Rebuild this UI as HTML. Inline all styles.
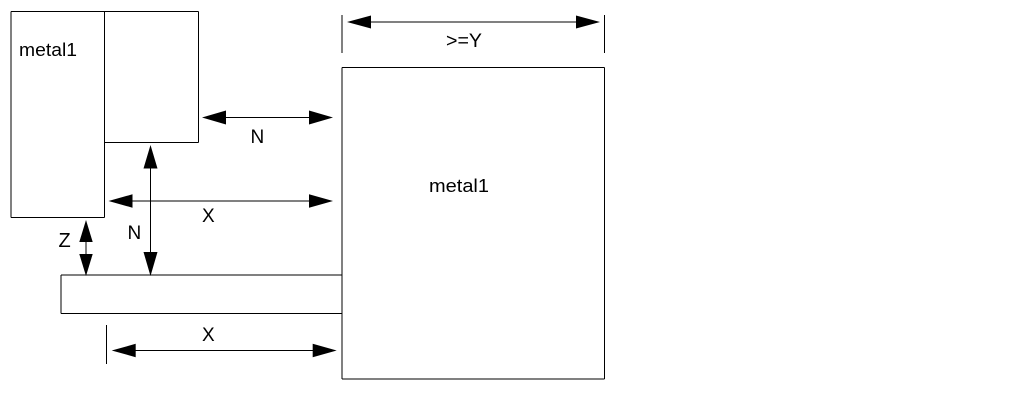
<!DOCTYPE html>
<html>
<head>
<meta charset="utf-8">
<style>
  html, body { margin: 0; padding: 0; background: #fff; }
  body { width: 1013px; height: 413px; overflow: hidden; }
  svg { display: block; }
  text { font-family: "Liberation Sans", Arial, sans-serif; fill: #000; }
</style>
</head>
<body>
<svg width="1013" height="413" viewBox="0 0 1013 413" xmlns="http://www.w3.org/2000/svg">
  <rect x="0" y="0" width="1013" height="413" fill="#fff"/>
  <g stroke="#000" stroke-width="1" fill="none">
    <!-- left tall rect -->
    <line x1="11" y1="11.5" x2="11" y2="217.5"/>
    <line x1="11" y1="11.5" x2="104.5" y2="11.5"/>
    <line x1="104.5" y1="11.5" x2="104.5" y2="217.5"/>
    <line x1="11" y1="217.5" x2="104.5" y2="217.5"/>
    <!-- second rect -->
    <line x1="104.5" y1="11.5" x2="198.5" y2="11.5"/>
    <line x1="198.5" y1="11.5" x2="198.5" y2="142.5"/>
    <line x1="104.5" y1="142.5" x2="198.5" y2="142.5"/>
    <!-- right big rect -->
    <line x1="342" y1="67.5" x2="604.5" y2="67.5"/>
    <line x1="342" y1="67.5" x2="342" y2="379"/>
    <line x1="604.5" y1="67.5" x2="604.5" y2="379"/>
    <line x1="342" y1="379" x2="604.5" y2="379"/>
    <!-- bar -->
    <line x1="61" y1="275" x2="342" y2="275"/>
    <line x1="61" y1="275" x2="61" y2="313.5"/>
    <line x1="61" y1="313.5" x2="342" y2="313.5"/>
    <!-- >=Y dimension -->
    <line x1="342" y1="15" x2="342" y2="53"/>
    <line x1="604.5" y1="15" x2="604.5" y2="53"/>
    <line x1="360" y1="22" x2="588" y2="22"/>
    <!-- N horizontal -->
    <line x1="215" y1="117.5" x2="320" y2="117.5"/>
    <!-- X upper -->
    <line x1="122" y1="201" x2="320" y2="201"/>
    <!-- N vertical -->
    <line x1="150.5" y1="160" x2="150.5" y2="262"/>
    <!-- Z vertical -->
    <line x1="86" y1="232" x2="86" y2="264"/>
    <!-- bottom X -->
    <line x1="106.5" y1="325" x2="106.5" y2="364"/>
    <line x1="125" y1="350.5" x2="324" y2="350.5"/>
  </g>
  <g fill="#000" stroke="none">
    <!-- >=Y heads -->
    <polygon points="347,22 371,15.5 371,28.5"/>
    <polygon points="600,22 576,15.5 576,28.5"/>
    <!-- N horizontal heads -->
    <polygon points="202,117.5 226,110.5 226,124.5"/>
    <polygon points="333,117.5 309,110.5 309,124.5"/>
    <!-- X upper heads -->
    <polygon points="108.5,201 132.5,194.3 132.5,207.7"/>
    <polygon points="333,201 309,194.3 309,207.7"/>
    <!-- N vertical heads -->
    <polygon points="150.5,145 143.5,168.5 157.5,168.5"/>
    <polygon points="150.5,276 143.5,252 157.5,252"/>
    <!-- Z heads -->
    <polygon points="86,220 79.3,242 92.7,242"/>
    <polygon points="86,276 79.3,254 92.7,254"/>
    <!-- bottom X heads -->
    <polygon points="111.7,350.5 135.7,343.8 135.7,357.2"/>
    <polygon points="336.7,350.5 312.7,343.8 312.7,357.2"/>
  </g>
  <!-- labels -->
  <text x="19" y="56" font-size="18" textLength="58" lengthAdjust="spacingAndGlyphs">metal1</text>
  <text x="429" y="192" font-size="18" textLength="60" lengthAdjust="spacingAndGlyphs">metal1</text>
  <text x="446" y="47" font-size="19" textLength="36" lengthAdjust="spacingAndGlyphs">&gt;=Y</text>
  <text x="250.5" y="143" font-size="19">N</text>
  <text x="202" y="222" font-size="19">X</text>
  <text x="127.5" y="239" font-size="19">N</text>
  <text x="58.5" y="247" font-size="20">Z</text>
  <text x="202" y="341" font-size="19">X</text>
</svg>
</body>
</html>
